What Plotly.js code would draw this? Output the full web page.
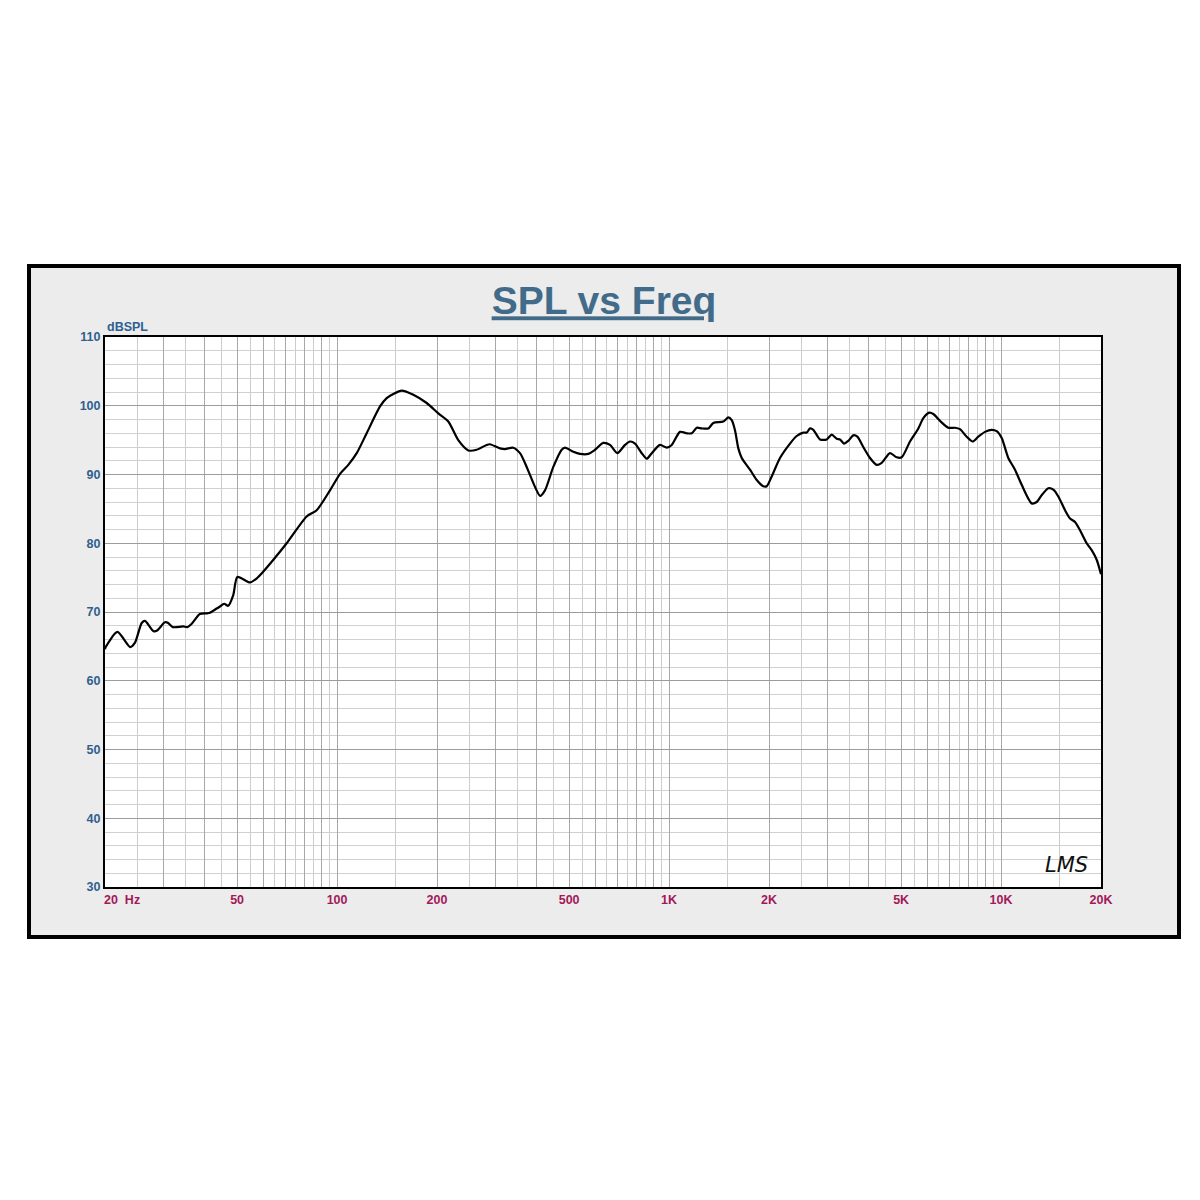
<!DOCTYPE html>
<html>
<head>
<meta charset="utf-8">
<script src="https://cdn.plot.ly/plotly-3.0.1.min.js"></script>
<style>
  html, body { margin: 0; padding: 0; background: #ffffff; width: 1200px; height: 1200px; overflow: hidden; }
  #frame { position: absolute; left: 27px; top: 264px; width: 1146px; height: 667px; border: 4px solid #000; background: #ececec; }
  #chart { width: 1146px; height: 667px; }
</style>
</head>
<body>
<div id="frame"><div id="chart"></div></div>
<script>
// Frequency (Hz) and SPL (dB)
const freqHz = [20.0, 20.1, 21.8, 23.8, 24.6, 25.8, 26.4, 28.0, 28.7, 30.3, 31.0, 32.0, 34.4, 35.4, 36.5, 38.6,
  40.5, 41.4, 43.4, 44.4, 45.7, 47.0, 48.7, 50.1, 54.7, 57.3, 60.0, 64.3, 70.5, 81.0, 86.8, 95.2,
  102.1, 108.1, 114.6, 122.8, 134.7, 141.1, 147.7, 156.6, 169.7, 186.2, 201.8, 216.3, 231.8, 248.6,
  263.4, 282.2, 288.8, 309.6, 320.5, 339.4, 355.7, 372.5, 394.6, 408.6, 423.0, 448.1, 474.9, 486.0,
  514.8, 539.2, 571.1, 598.4, 633.8, 663.9, 698.4, 736.8, 762.8, 789.8, 827.4, 856.5, 886.8, 939.2,
  983.9, 1018.6, 1078.8, 1130.2, 1170.2, 1211.5, 1254.3, 1313.2, 1359.5, 1457.1, 1508.5, 1544.6,
  1580.3, 1616.8, 1655.5, 1752.8, 1836.7, 1922.5, 1968.4, 2037.5, 2158.1, 2313.5, 2423.6, 2537.8,
  2598.7, 2658.6, 2720.1, 2849.6, 2984.3, 3089.6, 3198.4, 3273.0, 3364.8, 3467.0, 3589.1, 3690.4,
  3846.9, 4029.8, 4221.4, 4370.6, 4629.7, 4849.2, 5020.4, 5318.4, 5633.6, 5832.1, 6079.8, 6251.5,
  6547.5, 6935.5, 7263.8, 7520.6, 7877.6, 8214.1, 8538.9, 8944.7, 9369.6, 9701.5, 10045, 10516,
  11015, 11537, 12366, 12803, 13255, 13880, 14370, 14876, 15585, 16134, 16704, 17292, 18113,
  18748, 19410, 20000];
const splDb = [64.6, 64.9, 67.1, 64.9, 65.5, 68.4, 68.7, 67.2, 67.3, 68.5, 68.4, 67.8, 67.9, 67.8, 68.3, 69.7,
  69.8, 69.9, 70.5, 70.8, 71.2, 70.9, 72.5, 75.1, 74.3, 74.9, 75.9, 77.6, 80.0, 83.9, 84.8, 87.7,
  90.1, 91.4, 93.1, 96.0, 99.9, 101.1, 101.7, 102.2, 101.6, 100.4, 98.9, 97.7, 95.0, 93.5,
  93.6, 94.3, 94.4, 93.8, 93.7, 93.9, 93.1, 91.1, 88.2, 86.9, 87.7, 91.1, 93.6, 93.9,
  93.3, 93.0, 93.0, 93.6, 94.6, 94.3, 93.1, 94.3, 94.8, 94.5, 93.1, 92.3, 93.1, 94.3,
  93.9, 94.3, 96.2, 96.0, 96.0, 96.8, 96.7, 96.7, 97.5, 97.7, 98.3, 97.9,
  96.4, 93.8, 92.4, 90.7, 89.2, 88.3, 88.3, 89.7, 92.4, 94.5, 95.6, 96.1,
  96.1, 96.7, 96.5, 95.1, 95.1, 95.8, 95.2, 95.1, 94.5, 94.9, 95.7, 95.5,
  94.0, 92.4, 91.4, 91.7, 93.1, 92.5, 92.5, 94.8, 96.7, 98.2, 99.0, 98.8,
  97.8, 96.8, 96.8, 96.6, 95.5, 94.8, 95.5, 96.2, 96.5, 96.3, 95.3, 92.4,
  90.7, 88.5, 85.8, 86.0, 87.0, 88.0, 87.8, 86.8, 84.8, 83.6, 83.1, 81.9, 80.0,
  79.0, 77.6, 75.5];

// Axis ticks and grid
const xMajorVals = [20, 30, 40, 50, 60, 70, 80, 90, 100, 200, 300, 400, 500, 600, 700, 800, 900, 1000,
  2000, 3000, 4000, 5000, 6000, 7000, 8000, 9000, 10000, 20000];
const xMajorText = ['', '', '', '50', '', '', '', '', '100', '200', '', '', '500', '', '', '', '', '1K',
  '2K', '', '', '5K', '', '', '', '', '10K', '20K'];
const xMinorVals = [25, 35, 45, 55, 65, 75, 85, 95, 150, 250, 350, 450, 550, 650, 750, 850, 950, 1500,
  2500, 3500, 4500, 5500, 6500, 7500, 8500, 9500, 15000];
const yTickVals = [30, 40, 50, 60, 70, 80, 90, 100, 110];
const titleText = 'SPL vs Freq';
const yUnitText = 'dBSPL';
const firstXLabel = '20\u00a0\u00a0Hz';

const blue = '#2f5f8f';
const red = '#a3185a';
const fontFam = '"Liberation Sans", Arial, sans-serif';

const trace = {
  x: freqHz, y: splDb, type: 'scatter', mode: 'lines',
  line: { color: '#000000', width: 2.2, shape: 'spline', smoothing: 0.7 }, hoverinfo: 'skip'
};

const layout = {
  width: 1146, height: 667,
  paper_bgcolor: '#ececec', plot_bgcolor: '#ffffff',
  margin: { l: 74, r: 76, t: 69, b: 48 },
  showlegend: false,
  title: {
    text: '<b><u>' + titleText + '</u></b>',
    font: { family: fontFam, size: 39, color: '#416b89' },
    x: 0.5, xanchor: 'center', y: 0.951, yanchor: 'middle', yref: 'container'
  },
  xaxis: {
    type: 'log', range: [Math.log10(20), Math.log10(20000)],
    tickmode: 'array', tickvals: xMajorVals, ticktext: xMajorText,
    showgrid: true, gridcolor: '#a8a8a8', gridwidth: 1,
    ticks: '', tickfont: { family: fontFam, size: 12.5, color: red, weight: 'bold' },
    showline: true, linecolor: '#000', linewidth: 2, mirror: true,
    zeroline: false, fixedrange: true,
    minor: { tickmode: 'array', tickvals: xMinorVals, showgrid: true, gridcolor: '#cccccc', gridwidth: 1, ticks: '' }
  },
  yaxis: {
    range: [30, 110], tickmode: 'array', tickvals: yTickVals,
    showgrid: true, gridcolor: '#9c9c9c', gridwidth: 1,
    ticks: '', tickfont: { family: fontFam, size: 12.5, color: blue, weight: 'bold' },
    showline: true, linecolor: '#000', linewidth: 2, mirror: true,
    zeroline: false, fixedrange: true,
    minor: { dtick: 2, showgrid: true, gridcolor: '#d0d0d0', gridwidth: 1, ticks: '' }
  },
  annotations: [
    { text: '<b>' + yUnitText + '</b>', xref: 'paper', yref: 'paper', x: 0, y: 1,
      xanchor: 'left', yanchor: 'bottom', xshift: 0, yshift: 1, showarrow: false,
      font: { family: fontFam, size: 12.5, color: blue } },
    { text: '<b>' + firstXLabel + '</b>', xref: 'paper', yref: 'paper', x: 0, y: 0,
      xanchor: 'left', yanchor: 'top', xshift: -3, yshift: -4, showarrow: false,
      font: { family: fontFam, size: 12.5, color: red } },
    { text: '<i>LMS</i>', xref: 'paper', yref: 'paper', x: 0.965, y: 0.04,
      xanchor: 'center', yanchor: 'middle', showarrow: false,
      font: { family: '"DejaVu Sans", sans-serif', size: 21, color: '#111' } }
  ]
};

Plotly.newPlot('chart', [trace], layout, { displayModeBar: false, staticPlot: true });
</script>
</body>
</html>
